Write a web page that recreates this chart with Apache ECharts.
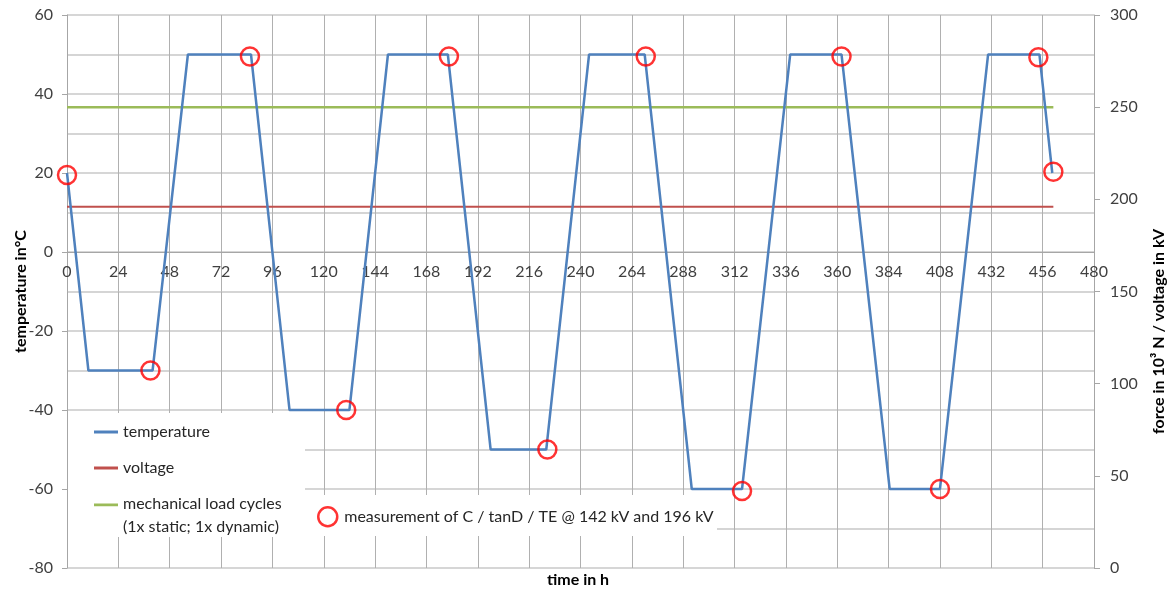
<!DOCTYPE html>
<html>
<head>
<meta charset="utf-8">
<script src="https://cdn.jsdelivr.net/npm/echarts@6/dist/echarts.min.js"></script>
<style>
html,body{margin:0;padding:0;background:#fff;}
#main{width:1170px;height:590px;}
</style>
</head>
<body>
<div id="main"></div>
<script>
// ---- data ----
var tempHours  = [0, 10, 40, 56.5, 86, 104, 132, 150, 178, 198, 224, 244, 270, 292, 315.5, 338, 362, 384.5, 408, 430.5, 454.5, 460.5];
var tempValues = [20, -30, -30, 50, 50, -40, -40, 50, 50, -50, -50, 50, 50, -60, -60, 50, 50, -60, -60, 50, 50, 20];

var voltageHours  = [0, 461];
var voltageValues = [196, 196];

var mechHours  = [0, 461];
var mechValues = [250, 250];

var measHours  = [0, 39, 85.5, 130.5, 178.5, 224.5, 270.5, 315.5, 362, 408, 454, 461];
var measValues = [19.5, -30, 49.5, -40, 49.5, -50, 49.5, -60.5, 49.5, -60, 49.3, 20.3];

var xTickInterval = 24;

function pairs(xs, ys) { return xs.map(function (x, i) { return [x, ys[i]]; }); }

var FONT = 'Lato';
var TXT = '#404040';
var LEG = '#262626';
var GRID_TOP = 15, GRID_BOTTOM = 22, H = 590;
var plotH = H - GRID_TOP - GRID_BOTTOM;
// x axis drawn where temperature = 0 (left axis -80..60)
var xAxisOffset = -plotH * (0 - (-80)) / (60 - (-80));

var chart = echarts.init(document.getElementById('main'), null, {renderer: 'canvas'});
chart.setOption({
  animation: false,
  backgroundColor: '#fff',
  textStyle: {fontFamily: FONT},
  grid: {left: 67, right: 76, top: GRID_TOP, bottom: GRID_BOTTOM, containLabel: false, outerBoundsMode: 'none'},
  xAxis: {
    type: 'value', min: 0, max: 480, interval: xTickInterval, position: 'bottom', offset: xAxisOffset,
    axisLine: {show: true, onZero: false, lineStyle: {color: '#a6a6a6', width: 1}},
    axisTick: {show: false},
    axisLabel: {color: TXT, fontSize: 16, fontFamily: FONT, margin: 12},
    splitLine: {show: true, lineStyle: {color: '#b0b0b0', width: 1}}
  },
  yAxis: [{
    type: 'value', min: -80, max: 60, interval: 20, position: 'left',
    name: 'temperature in°C', nameLocation: 'middle', nameRotate: 90, nameGap: 38, nameMoveOverlap: false,
    nameTextStyle: {color: '#000', fontWeight: 'bold', fontSize: 16, fontFamily: FONT},
    axisLine: {show: true, onZero: false, lineStyle: {color: '#a6a6a6', width: 1}},
    axisTick: {show: true, length: 5, lineStyle: {color: '#a6a6a6'}},
    axisLabel: {color: TXT, fontSize: 16, fontFamily: FONT, margin: 14},
    splitLine: {show: true, lineStyle: {color: '#c8c8c8', width: 1.5}},
    minorTick: {show: false, splitNumber: 2},
    minorSplitLine: {show: true, lineStyle: {color: '#c8c8c8', width: 1.5}}
  }, {
    type: 'value', min: 0, max: 300, interval: 50, position: 'right',
    name: 'force in 10³ N / voltage in kV', nameLocation: 'middle', nameRotate: 90, nameGap: 57, nameMoveOverlap: false,
    nameTextStyle: {color: '#000', fontWeight: 'bold', fontSize: 16, fontFamily: FONT, padding: [0, 80, 0, 0]},
    axisLine: {show: true, onZero: false, lineStyle: {color: '#a6a6a6', width: 1}},
    axisTick: {show: true, length: 6, lineStyle: {color: '#a6a6a6'}},
    axisLabel: {color: TXT, fontSize: 16, fontFamily: FONT, margin: 16},
    splitLine: {show: false}
  }],
  graphic: [
    {type: 'rect', z: 1, silent: true, shape: {x: 68, y: 413, width: 237, height: 124}, style: {fill: '#fff'}},
    {type: 'rect', z: 1, silent: true, shape: {x: 305, y: 495, width: 412, height: 41}, style: {fill: '#fff'}},
    {type: 'text', z: 5, left: 547, top: 572, style: {text: 'time in h', font: 'bold 16px ' + FONT, fill: '#000'}}
  ],
  legend: [{
    data: [{name: 'temperature', icon: 'rect'}], left: 94, top: 424, padding: 0, itemWidth: 24, itemHeight: 3,
    textStyle: {color: LEG, fontSize: 16, fontFamily: FONT}, selectedMode: false
  }, {
    data: [{name: 'voltage', icon: 'rect'}], left: 94, top: 460, padding: 0, itemWidth: 24, itemHeight: 3,
    textStyle: {color: LEG, fontSize: 16, fontFamily: FONT}, selectedMode: false
  }, {
    data: [{name: 'mechanical load cycles', icon: 'path://M0,0 L24,0 L24,3 L0,3 Z M0,24 L0.01,24 L0.01,24.01 Z'}],
    left: 94, top: 492, padding: 0, itemWidth: 24, itemHeight: 23, symbolKeepAspect: false,
    formatter: function (n) { return n + '\n(1x static; 1x dynamic)'; },
    textStyle: {color: LEG, fontSize: 16, fontFamily: FONT, lineHeight: 23},
    selectedMode: false
  }, {
    data: [{name: 'measurement of C / tanD / TE @ 142 kV and 196 kV', icon: 'circle',
            itemStyle: {color: 'transparent', borderColor: '#ff0000', borderWidth: 2.5}}],
    left: 317, top: 506, padding: 0, itemWidth: 19, itemHeight: 19,
    textStyle: {color: LEG, fontSize: 16, fontFamily: FONT, padding: [0, 0, 0, 2]}, selectedMode: false
  }],
  series: [{
    name: 'temperature', type: 'line', yAxisIndex: 0, symbol: 'none', z: 3,
    data: pairs(tempHours, tempValues),
    lineStyle: {color: '#4f81bd', width: 2.5}, itemStyle: {color: '#4f81bd'}
  }, {
    name: 'voltage', type: 'line', yAxisIndex: 1, symbol: 'none', z: 2,
    data: pairs(voltageHours, voltageValues),
    lineStyle: {color: '#c0504d', width: 2}, itemStyle: {color: '#c0504d'}
  }, {
    name: 'mechanical load cycles', type: 'line', yAxisIndex: 1, symbol: 'none', z: 2,
    data: pairs(mechHours, mechValues),
    lineStyle: {color: '#9bbb59', width: 2.5}, itemStyle: {color: '#9bbb59'}
  }, {
    name: 'measurement of C / tanD / TE @ 142 kV and 196 kV', type: 'scatter', yAxisIndex: 0, z: 4,
    symbol: 'circle', symbolSize: 18,
    data: pairs(measHours, measValues),
    itemStyle: {color: 'transparent', borderColor: '#ff0000', borderWidth: 2.5}
  }]
});
</script>
</body>
</html>
